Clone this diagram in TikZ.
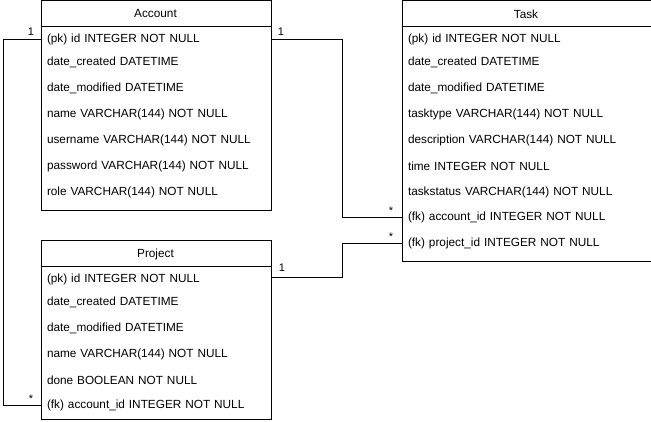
\documentclass[tikz,border=0pt]{standalone}
\usepackage{fontspec}
\setmainfont{Liberation Sans}
\usepackage{tikz}
\usetikzlibrary{positioning}

\begin{document}
\begin{tikzpicture}[x=1pt, y=-1pt, line width=1pt,
  table/.style={draw, fill=white, anchor=north west, inner sep=0pt},
  head/.style={font=\fontsize{11.8}{14}\selectfont, inner sep=0pt},
  row/.style={anchor=west, text width=218pt, align=left, inner xsep=6pt, inner ysep=0pt, font=\fontsize{11.8}{14}\selectfont, yshift=-1.5pt},
  mult/.style={font=\fontsize{11}{13}\selectfont, inner sep=0pt}]
\useasboundingbox (0,0) rectangle (651,422);
% tables
\node[table, minimum width=230pt, minimum height=210pt] (account) at (40.5,0.5) {};
\node[table, minimum width=249pt, minimum height=261pt] (task) at (401.5,0.5) {};
\node[table, minimum width=230pt, minimum height=178pt] (project) at (40.5,240.5) {};
\draw (40.5,26.5) -- (270.5,26.5);
\draw (401.5,26.5) -- (650.5,26.5);
\draw (40.5,266.5) -- (270.5,266.5);
\node[head] (accounthead) at (155.5,14) {Account};
\node[head] (taskhead) at (526,14) {Task};
\node[head] (projecthead) at (155.5,254) {Project};
% Account rows
\node[row] (accpk) at (40.5,38) {(pk) id INTEGER NOT NULL};
\node[row] (acc2) at (40.5,61) {date\_created DATETIME};
\node[row] (acc3) at (40.5,87) {date\_modified DATETIME};
\node[row] (acc4) at (40.5,113) {name VARCHAR(144) NOT NULL};
\node[row] (acc5) at (40.5,139) {username VARCHAR(144) NOT NULL};
\node[row] (acc6) at (40.5,165) {password VARCHAR(144) NOT NULL};
\node[row] (acc7) at (40.5,191) {role VARCHAR(144) NOT NULL};
% Task rows
\node[row] (taskpk) at (401.5,38) {(pk) id INTEGER NOT NULL};
\node[row] (task2) at (401.5,61) {date\_created DATETIME};
\node[row] (task3) at (401.5,87) {date\_modified DATETIME};
\node[row] (task4) at (401.5,113) {tasktype VARCHAR(144) NOT NULL};
\node[row] (task5) at (401.5,139) {description VARCHAR(144) NOT NULL};
\node[row] (task6) at (401.5,165) {time INTEGER NOT NULL};
\node[row] (task7) at (401.5,191) {taskstatus VARCHAR(144) NOT NULL};
\node[row] (taskacc) at (401.5,216) {(fk) account\_id INTEGER NOT NULL};
\node[row] (taskprj) at (401.5,242) {(fk) project\_id INTEGER NOT NULL};
% Project rows
\node[row] (prjpk) at (40.5,278) {(pk) id INTEGER NOT NULL};
\node[row] (prj2) at (40.5,301) {date\_created DATETIME};
\node[row] (prj3) at (40.5,327) {date\_modified DATETIME};
\node[row] (prj4) at (40.5,353) {name VARCHAR(144) NOT NULL};
\node[row] (prj5) at (40.5,379) {done BOOLEAN NOT NULL};
\node[row] (prjfk) at (40.5,404) {(fk) account\_id INTEGER NOT NULL};
% bends
\coordinate (c1) at (3.5,39.5);
\coordinate (c2) at (342.5,39.5);
\coordinate (c3) at (342.5,277.5);
% relations
\draw (accpk.west |- c1) -- (c1) |- (prjfk.west);
\draw (accpk.east |- c2) -- (c2) |- (taskacc.west);
\draw (prjpk.east |- c3) -- (c3) |- (taskprj.west);
\node[mult] (m1) at (31,32) {1};
\node[mult] (m2) at (31,399) {*};
\node[mult] (m3) at (281,32) {1};
\node[mult] (m4) at (391,211) {*};
\node[mult] (m5) at (391,237) {*};
\node[mult] (m6) at (282,268) {1};
\end{tikzpicture}
\end{document}
